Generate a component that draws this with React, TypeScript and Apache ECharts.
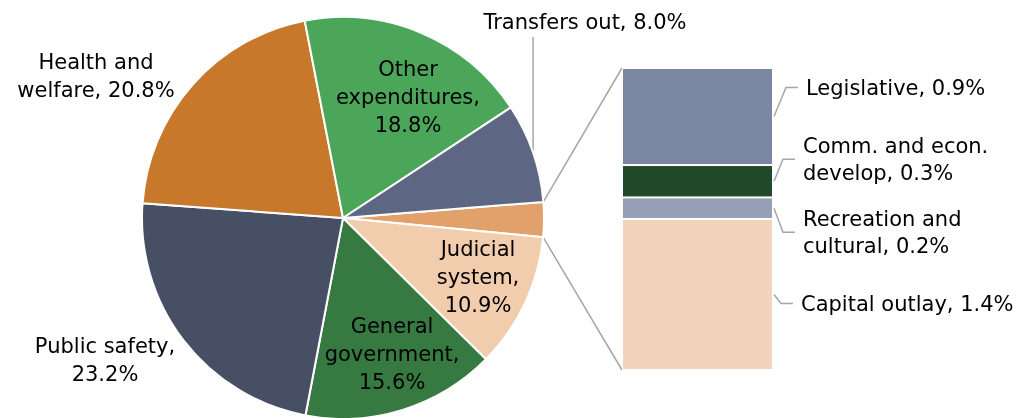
import React, { useEffect, useRef } from "react";
import * as echarts from "echarts";

// ---- data ----
const pieNames = ["Other", "Judicial\nsystem", "General\ngovernment", "Public safety", "Health and\nwelfare", "Other\nexpenditures", "Transfers out"];
const pieValues = [2.8, 10.9, 15.6, 23.2, 20.8, 18.8, 8.0];
const pieColors = ["#E2A16B", "#F1CDAE", "#367A41", "#464F64", "#C8782A", "#4BA65A", "#5D6783"];
const pieSeparators = ["", ",\n", ",\n", ",\n", ", ", ",\n", ", "];

const barNames = ["Legislative", "Comm. and econ.\ndevelop", "Recreation and\ncultural", "Capital outlay"];
const barValues = [0.9, 0.3, 0.2, 1.4];
const barColors = ["#7B86A2", "#20492A", "#979FB6", "#F1D4BB"];

// ---- layout (text placement / geometry constants) ----
const PIE_CX = 343;
const PIE_CY = 218;
const PIE_R = 201;
const START = 4.6;
const pieLabelPos: (number[] | null)[] = [null, [478, 277], [392, 354], [105, 360], [96, 76], [408, 97], [585, 22]];
const TRANSFER_LABEL_BOTTOM = 37;
const BAR_LEFT = 622;
const BAR_TOP = 68;
const BAR_W = 151;
const BAR_H = 302;
const barLabelDist = [33, 30, 30, 28];
const barLabelDy = [-29, -22, 24, 9];
const LINE = "#A6A6A6";

export default function App() {
  const ref = useRef<HTMLDivElement>(null);
  useEffect(() => {
    const chart = echarts.init(ref.current!, null, { renderer: "svg" });
    const total = pieValues.reduce((a, b) => a + b, 0);
    const barTotal = barValues.reduce((a, b) => a + b, 0);
    const font = { fontFamily: "DejaVu Sans", fontSize: 21, lineHeight: 28, color: "#000" };

    const barSeries = [3, 2, 1, 0].map((i) => ({
      type: "bar",
      name: barNames[i],
      stack: "other",
      barWidth: "100%",
      data: [barValues[i]],
      itemStyle: { color: barColors[i], borderColor: "#fff", borderWidth: 1 },
      label: {
        show: true,
        position: "right",
        distance: barLabelDist[i],
        offset: [0, barLabelDy[i]],
        align: "left",
        ...font,
        lineHeight: 27,
        formatter: () => `${barNames[i]}, ${barValues[i].toFixed(1)}%`,
      },
    }));

    chart.setOption({
      animation: false,
      grid: { left: BAR_LEFT, top: BAR_TOP, width: BAR_W, height: BAR_H },
      xAxis: { type: "category", data: ["Other"], show: false },
      yAxis: { type: "value", min: 0, max: barTotal, show: false },
      series: [
        {
          type: "pie",
          center: [PIE_CX, PIE_CY],
          radius: PIE_R,
          startAngle: START,
          clockwise: true,
          avoidLabelOverlap: false,
          itemStyle: { borderColor: "#fff", borderWidth: 2 },
          label: {
            show: true,
            position: "inside",
            ...font,
            formatter: (p: any) =>
              p.dataIndex === 0 ? "" : `${p.name}${pieSeparators[p.dataIndex]}${Number(p.value).toFixed(1)}%`,
          },
          labelLine: { show: false },
          labelLayout: (p: any) => {
            const pos = pieLabelPos[p.dataIndex];
            return pos ? { x: pos[0], y: pos[1], align: "center", verticalAlign: "middle" } : {};
          },
          data: pieNames.map((n, i) => ({
            name: n,
            value: pieValues[i],
            itemStyle: { color: pieColors[i] },
            label: i === 0 ? { show: false } : undefined,
          })),
        },
        ...barSeries,
      ],
    });

    const pt = (deg: number) => {
      const a = (deg * Math.PI) / 180;
      return [PIE_CX + PIE_R * Math.cos(a), PIE_CY - PIE_R * Math.sin(a)];
    };
    const yTop = chart.convertToPixel({ yAxisIndex: 0 }, barTotal) as number;
    const yBot = chart.convertToPixel({ yAxisIndex: 0 }, 0) as number;
    const otherEnd = START - (pieValues[0] / total) * 360;

    // transfers leader
    const before = pieValues.slice(0, 6).reduce((a, b) => a + b, 0);
    const tMid = START - ((before + pieValues[6] / 2) / total) * 360;
    const tp = pt(tMid);

    const graphics: any[] = [
      { type: "polyline", silent: true, shape: { points: [pt(START), [BAR_LEFT, yTop]] }, style: { stroke: LINE, lineWidth: 1.5, fill: null } },
      { type: "polyline", silent: true, shape: { points: [pt(otherEnd), [BAR_LEFT, yBot]] }, style: { stroke: LINE, lineWidth: 1.5, fill: null } },
      { type: "polyline", silent: true, shape: { points: [[tp[0], tp[1]], [tp[0], TRANSFER_LABEL_BOTTOM]] }, style: { stroke: LINE, lineWidth: 1.5, fill: null } },
    ];

    let cum = barTotal;
    barValues.forEach((v, i) => {
      const y1 = chart.convertToPixel({ yAxisIndex: 0 }, cum) as number;
      const y2 = chart.convertToPixel({ yAxisIndex: 0 }, cum - v) as number;
      cum -= v;
      const mid = (y1 + y2) / 2;
      const right = BAR_LEFT + BAR_W;
      const lx = right + barLabelDist[i];
      const ly = mid + barLabelDy[i];
      graphics.push({
        type: "polyline",
        silent: true,
        shape: { points: [[right + 1, mid], [lx - 20, ly], [lx - 8, ly]] },
        style: { stroke: LINE, lineWidth: 1.5, fill: null },
      });
    });

    chart.setOption({ graphic: graphics });
    return () => chart.dispose();
  }, []);
  return <div ref={ref} style={{ position: "fixed", left: 0, top: 0, width: 1019, height: 418 }} />;
}
